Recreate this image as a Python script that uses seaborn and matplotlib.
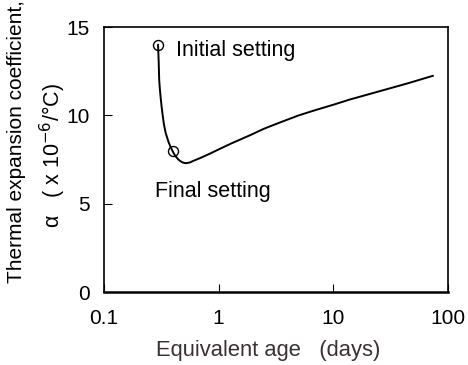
import matplotlib
matplotlib.use("Agg")
import matplotlib.pyplot as plt
import seaborn as sns
import pandas as pd

# Thermal expansion coefficient vs equivalent age
age_days = [0.296, 0.298, 0.300, 0.303, 0.307, 0.312, 0.318, 0.325, 0.333,
            0.345, 0.355, 0.365, 0.38, 0.395, 0.41, 0.425, 0.445, 0.465,
            0.49, 0.52, 0.56, 0.6, 0.7, 0.85, 1.0, 1.3, 1.87, 2.5, 3.5,
            5.0, 7.0, 10.0, 14.0, 20.0, 30.0, 45.0, 74.0]
alpha = [14.0, 13.5, 13.0, 12.0, 11.5, 11.0, 10.5, 10.0, 9.5,
         9.0, 8.75, 8.5, 8.22, 8.0, 7.8, 7.65, 7.5, 7.4,
         7.32, 7.29, 7.33, 7.42, 7.6, 7.85, 8.07, 8.42, 8.87, 9.25, 9.62,
         10.0, 10.3, 10.6, 10.9, 11.18, 11.5, 11.82, 12.24]

# Setting points marked with open circles
setting_age = [0.296, 0.40]
setting_alpha = [14.0, 8.0]
setting_labels = ["Initial setting", "Final setting"]

x_ticks = [0.1, 1, 10, 100]
x_ticklabels = ["0.1", "1", "10", "100"]
y_ticks = [0, 5, 10, 15]

sns.set_theme(style="white")
plt.rcParams["font.family"] = ["Liberation Sans", "DejaVu Sans"]
plt.rcParams["axes.unicode_minus"] = False

fig = plt.figure(figsize=(4.68, 3.65), dpi=100)
ax = fig.add_axes([0.2222, 0.2, 0.7351, 0.726])

curve = pd.DataFrame({"age": age_days, "alpha": alpha})
sns.lineplot(data=curve, x="age", y="alpha", ax=ax, color="black",
             linewidth=1.4, sort=False, estimator=None,
             solid_joinstyle="round", solid_capstyle="round")
ax.plot(setting_age, setting_alpha, linestyle="none", marker="o",
        markersize=7.2, markerfacecolor="none", markeredgecolor="black",
        markeredgewidth=1.0)

ax.set_xscale("log")
ax.set_xlim(0.1, 100)
ax.set_ylim(0, 15)
ax.set_xticks(x_ticks)
ax.set_xticklabels(x_ticklabels)
ax.set_yticks(y_ticks)
ax.minorticks_off()
ax.tick_params(axis="both", direction="in", length=6, width=0.8,
               colors="black", labelsize=15)
ax.tick_params(axis="x", pad=12, bottom=True)
ax.tick_params(axis="y", pad=10, left=True)
for side in ["top", "right", "left", "bottom"]:
    ax.spines[side].set_color("black")
    ax.spines[side].set_linewidth(1.2)
ax.spines["bottom"].set_linewidth(1.8)

ax.set_xlabel("")
ax.set_ylabel("")

ax.text(0.424, 13.36, setting_labels[0], fontsize=15.5, color="black",
        ha="left", va="baseline")
ax.text(0.279, 5.38, setting_labels[1], fontsize=15.5, color="black",
        ha="left", va="baseline")

fig.text(0.573, 0.04, "Equivalent age   (days)", fontsize=15.8,
         color="#3a3036", ha="center", va="center")
fig.text(0.035, 0.611, "Thermal expansion coefficient,", fontsize=15,
         rotation=90, ha="center", va="center", color="black")
fig.text(0.112, 0.575, "\u03b1   ( x 10$^{-6}$/\u00b0C)", fontsize=15.5,
         rotation=90, ha="center", va="center", color="black")

fig.savefig("out.png", dpi=100)
